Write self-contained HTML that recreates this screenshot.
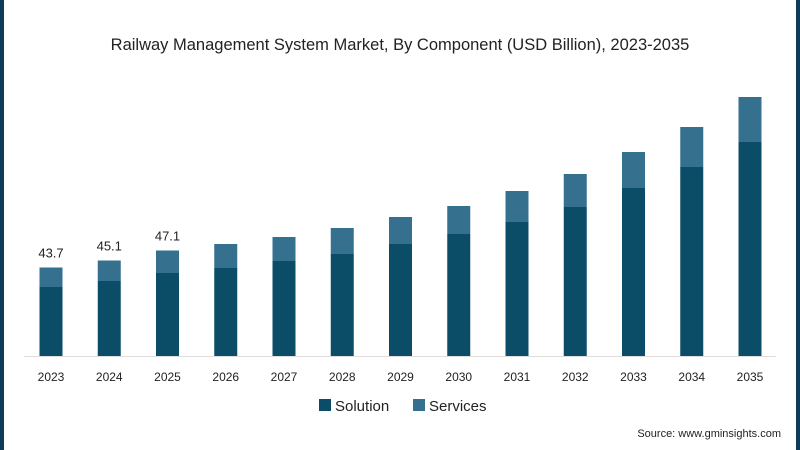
<!DOCTYPE html>
<html><head><meta charset="utf-8"><style>
body{margin:0;background:#fff;}
#wrap{position:relative;width:800px;height:450px;overflow:hidden;background:#fff;font-family:"Liberation Sans",sans-serif;}
</style></head><body>
<div id="wrap">
<svg id="chart" width="800" height="450">
<rect x="0" y="0" width="4" height="450" fill="#0d3b5a"/>
<rect x="796" y="0" width="4" height="450" fill="#0d3b5a"/>
<text x="400" y="50" text-anchor="middle" font-size="16.5" fill="#222">Railway Management System Market, By Component (USD Billion), 2023-2035</text>
<line x1="24" y1="356.5" x2="776" y2="356.5" stroke="#ddd" stroke-width="1"/>
<g id="bars"></g>
<g>
<rect x="319" y="399" width="12" height="12" fill="#0b4d66"/>
<text x="335" y="411" font-size="15" fill="#222">Solution</text>
<rect x="413" y="399" width="12" height="12" fill="#35708f"/>
<text x="429" y="411" font-size="15" fill="#222">Services</text>
</g>
<text x="781" y="437" text-anchor="end" font-size="11" fill="#222">Source: www.gminsights.com</text>
</svg>
</div>
<script>
const years = ["2023","2024","2025","2026","2027","2028","2029","2030","2031","2032","2033","2034","2035"];
const solution = [39.8,41,42.6,43.6,45,46.4,48.4,50.4,52.8,55.8,59.6,63.8,68.8];
const services = [3.9,4.1,4.5,4.8,4.8,5.2,5.4,5.6,6.2,6.6,7.2,8,9];
const labels = ["43.7","45.1","47.1"];
const yMin = 26, pxPerUnit = 5, baseY = 356;
function y(v){return baseY-(v-yMin)*pxPerUnit;}
function x(i){return 51+i*58.25;}
const g=document.getElementById('bars');
const NS="http://www.w3.org/2000/svg";
years.forEach((yr,i)=>{
  const cx=x(i), w=23;
  const s=document.createElementNS(NS,'rect');
  s.setAttribute('x',cx-w/2);s.setAttribute('width',w);
  s.setAttribute('y',y(solution[i]));s.setAttribute('height',baseY-y(solution[i]));
  s.setAttribute('fill','#0b4d66');
  
  
  g.appendChild(s);
  const t=solution[i]+services[i];
  const r=document.createElementNS(NS,'rect');
  r.setAttribute('x',cx-w/2);r.setAttribute('width',w);
  r.setAttribute('y',y(t));r.setAttribute('height',y(solution[i])-y(t));
  r.setAttribute('fill','#35708f');
  
  
  g.appendChild(r);
  const tx=document.createElementNS(NS,'text');
  tx.setAttribute('x',cx);tx.setAttribute('y',381);tx.setAttribute('text-anchor','middle');
  tx.setAttribute('font-size','12');tx.setAttribute('fill','#222');tx.textContent=yr;
  
  
  g.appendChild(tx);
  if(i<labels.length){
    const l=document.createElementNS(NS,'text');
    l.setAttribute('x',cx);l.setAttribute('y',y(t)-10);l.setAttribute('text-anchor','middle');
    l.setAttribute('font-size','13');l.setAttribute('fill','#222');l.textContent=labels[i];
    
    
    g.appendChild(l);
  }
});
</script>
</body></html>
